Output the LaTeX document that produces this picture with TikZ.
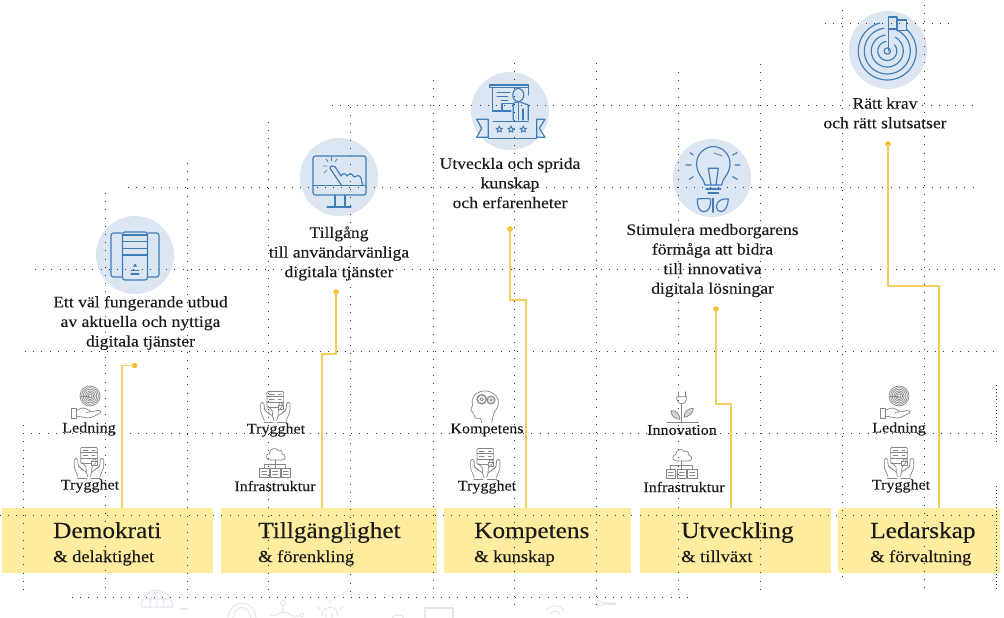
\documentclass[tikz,border=0pt]{standalone}
\usepackage{fontspec}
\setmainfont[FakeStretch=1.1,FakeBold=0.12]{Liberation Serif}
\usetikzlibrary{calc}
\definecolor{boxfill}{HTML}{FEEC9F}
\definecolor{halofill}{HTML}{DCE6F2}
\definecolor{iconblue}{HTML}{3F7DB8}
\definecolor{icongray}{HTML}{858585}
\definecolor{gold}{HTML}{F2CE5C}
\definecolor{golddot}{HTML}{F5BE25}
\definecolor{faint}{HTML}{E6E6F3}
\definecolor{inkc}{HTML}{1A1A1A}
\tikzset{
  dotgrid/.style={draw=black!80,line width=0.8pt,dash pattern=on 0.8pt off 7.4pt},
  colbox/.style={fill=boxfill,inner sep=0pt,anchor=north west},
  halo/.style={circle,fill=halofill,minimum size=78pt,inner sep=0pt},
  bi/.style={draw=iconblue,line width=1.15pt,line cap=round,line join=round},
  bithin/.style={draw=iconblue,line width=0.7pt,line cap=round},
  gi/.style={draw=icongray,line width=0.7pt,line cap=round,line join=round},
  lead/.style={align=center,inner sep=0pt,font=\fontsize{16}{19.6}\selectfont,text=inkc},
  small/.style={inner sep=0pt,font=\fontsize{14.6}{16}\selectfont,text=inkc},
  title/.style={inner sep=0pt,anchor=base west,font=\fontsize{23}{24}\selectfont,text=inkc},
  subtitle/.style={inner sep=0pt,anchor=base west,font=\fontsize{16.8}{18}\selectfont,text=inkc},
  golddotn/.style={circle,fill=golddot,minimum size=5.5pt,inner sep=0pt},
  link/.style={draw=gold,line width=1.05pt},
  fainticon/.style={draw=faint,line width=1.1pt},
  iconserver/.pic={
    \draw[bi,rounded corners=2.5] (-12.5,-23) rectangle (12.5,25);
    \draw[bi] (-12.5,-20)--(12.5,-20) (-12.5,-13.3)--(12.5,-13.3) (-12.5,0)--(12.5,0);
    \draw[bithin] (-12.5,-6.7)--(12.5,-6.7);
    \draw[bi,rounded corners=2.5] (-13.5,-22)--(-24,-22)--(-24,22)--(-13.5,22);
    \draw[bi,rounded corners=2.5] (13.5,-22)--(24,-22)--(24,22)--(13.5,22);
    \fill[iconblue] (0,8.5)--(2,11.5)--(-2,11.5)--cycle;
    \draw[bithin] (-4,15)--(4,15);
    \draw[bi] (-4,19)--(4,19);
  },
  iconscreen/.pic={
    \draw[bi,rounded corners=2.5] (-26,-21) rectangle (27,18);
    \draw[bi] (-26,8.5)--(27,8.5);
    \draw[bi] (-4,18)--(-4,29) (6,18)--(6,29) (-12,30)--(12,30);
    \draw[bi] (2.7,8.5)--(-9,-8.7) .. controls (-9.5,-11) and (-6,-12) .. (-4,-10.3) -- (2,-1) .. controls (3,-4) and (7,-4) .. (8,-1) .. controls (10,-4) and (14,-3.5) .. (15,0) .. controls (17,-2) and (21,-2) .. (22,1) -- (23.7,8.5);
    \draw[bithin] (-11,-15)--(-13,-18) (-7.5,-16)--(-7.5,-20) (-12,-11)--(-16,-11) (-12,-7)--(-15,-4) (-4,-15)--(-2,-18);
  },
  iconteach/.pic={
    \draw[bi] (-20.7,-26) rectangle (18.3,-23.7);
    \draw[bi] (-17.7,-23.7)--(-17.7,0)--(-8,0)--(-8,-7.7)--(3.5,-7.7);
    \draw[bi] (18.3,-23.7)--(18.3,-16);
    \draw[bi] (-8,0)--(1,0);
    \draw[bithin] (-13,-19)--(0,-19) (-13,-15)--(-2,-15) (-9,-11)--(-2,-11);
    \draw[bi] (8.3,-16) ellipse [x radius=5.5,y radius=6.5];
    \draw[bi] (3.3,9)--(3.3,-7.7) (3.3,-7.7)--(7,-9)--(10,-9)--(18.3,-6)--(18.3,9);
    \draw[bi] (8.3,-8)--(8.3,9) (13,-2)--(13,9);
    \draw[bi] (-16.7,10.7)--(18.3,10.7);
    \draw[bi] (-21.7,10.7)--(-21.7,27.3)--(26.7,27.3)--(26.7,10.7);
    \draw[bi] (-21.7,8.3)--(-33.3,8.3)--(-28.3,17.3)--(-33.3,26.3)--(-21.7,26.3)--cycle;
    \draw[bi] (26.7,8.3)--(35,8.3)--(29.3,17.3)--(35,26.3)--(26.7,26.3)--cycle;
    \foreach \sx in {-10.7,1,13.3}{
      \draw[iconblue,line width=0.9pt,line join=round,shift={(\sx,18.3)}]
        (0,-3.4)--(0.9,-1)--(3.3,-1)--(1.4,0.5)--(2.1,2.9)--(0,1.5)--(-2.1,2.9)--(-1.4,0.5)--(-3.3,-1)--(-0.9,-1)--cycle;
    }
  },
  iconbulb/.pic={
    \draw[bi] (-7,7) .. controls (-8,0) and (-15.4,-3) .. (-15.4,-14.7) .. controls (-15.4,-24) and (-7,-31.4) .. (1.3,-31.4) .. controls (10,-31.4) and (18,-24) .. (18,-14.7) .. controls (18,-3) and (10,0) .. (9.6,7) -- cycle;
    \draw[bi] (-6,11)--(8.7,11) (-4,15)--(6.5,15);
    \draw[bi] (-1,7)--(-3.7,-9.7)--(6.3,-9.7)--(4,7);
    \draw[bithin] (2,-25)--(10,-22);
    \draw[bi] (-22,-25.3)--(-18.7,-23) (-26,-13)--(-21,-13) (-22.7,1.3)--(-18.7,-1.3) (20.7,-23)--(25,-25.3) (23,-13)--(28,-13) (20.7,-1.3)--(25.3,1.3);
    \draw[bi] (1,20.3)--(1,34.3);
    \draw[bi] (-14.7,21) .. controls (-5,20) and (-2,21) .. (-1.3,21) .. controls (-1,28) and (-3,33.7) .. (-8,33.7) .. controls (-13,33.7) and (-15,28) .. (-14.7,21) -- cycle;
    \draw[bi] (16.3,21) .. controls (10,20) and (5,23) .. (4.5,28) .. controls (4.5,32) and (7,34) .. (9,33.7) .. controls (14,33) and (16,27) .. (16.3,21) -- cycle;
  },
  icontarget/.pic={
    \draw[bi] plot[domain=-48:255,samples=50] ({-0.7+29*cos(\x)},{1+29*sin(\x)});
    \draw[bi] plot[domain=-65:262,samples=50] ({-0.7+23*cos(\x)},{1+23*sin(\x)});
    \draw[bi] plot[domain=-60:262,samples=40] ({-0.7+16*cos(\x)},{1+16*sin(\x)});
    \draw[bi] plot[domain=-40:262,samples=30] ({-0.7+9.5*cos(\x)},{1+9.5*sin(\x)});
    \draw[bi] (-0.7,1) circle [radius=3.2];
    \draw[bi] (0.3,1)--(0.3,-33)--(9,-33)--(9,-21)--(0.3,-21);
    \draw[bi] (9,-30)--(18.7,-30)--(18.7,-19.3)--(9,-19.3)--(9,-21);
  },
  graytarget/.pic={
    \foreach \r in {10,8.4,6.8,5.2,3.6,2}{\draw[gi] (0,0) circle [radius=\r];}
    \draw[gi] (-9,0)--(0,0);
    \draw[gi] (-18.3,12.3) rectangle (-14,22.3);
    \draw[gi,rounded corners=2] (-14,14.7)--(-6.7,11.3)--(1.7,15.7)--(-4,16.5);
    \draw[gi,rounded corners=2] (1.7,15.7)--(10,14)--(11.7,16.3)--(0,22.3)--(-14,20);
  },
  graysecure/.pic={
    \draw[gi,rounded corners=1] (-8.3,-8) rectangle (8.3,8);
    \draw[gi] (-8.3,-2.7)--(8.3,-2.7) (-8.3,2.7)--(8.3,2.7);
    \draw[gi] (-6,-5.3)--(-1,-5.3) (3,-5.3)--(6,-5.3) (-6,0)--(-1,0) (3,0)--(6,0);
    \draw[gi,fill=white] (2.8,5.5) rectangle (8.2,10);
    \draw[gi] (3.8,5.5) .. controls (3.8,2.5) and (7.2,2.5) .. (7.2,5.5);
    \foreach \s in {1,-1}{
      \begin{scope}[xscale=\s]
        \draw[gi,rounded corners=1.2] (-11,21)--(-14.7,12)--(-14.7,3)--(-11.4,3)--(-10.7,10.5)--(-5,15)--(-2.7,16.2)--(-1.4,21);
        \draw[gi] (-10.7,10.5)--(-6,14.5) (-7,7)--(-3,11.5)--(-2.7,16.2);
        \draw[gi] (-11.5,23)--(-2,23);
      \end{scope}
    }
  },
  graycloud/.pic={
    \draw[gi] (-5,6) .. controls (-10,6) and (-10,0) .. (-6,-0.5) .. controls (-6,-5) and (0,-7.5) .. (3,-3.5) .. controls (6,-5) and (8,-2) .. (7,0) .. controls (11,0.5) and (11,6) .. (6.5,6) -- cycle;
    \draw[gi] (0,6)--(0,14) (-11,14)--(-11,10)--(10.5,10)--(10.5,14);
    \foreach \c in {-11,0,10.5}{
      \draw[gi] (\c-4.8,14.3) rectangle (\c+4.8,23.7);
      \draw[gi] (\c-2.5,17.5)--(\c+2.5,17.5) (\c-2.5,20.5)--(\c+2.5,20.5);
    }
  },
  grayhead/.pic={
    \draw[gi] (-3.3,16) .. controls (-3.5,14) and (-4,12) .. (-5,11.6) -- (-9,11.6) .. controls (-11,11) and (-10,8) .. (-11.7,6.6) -- (-14.3,3.3) -- (-12.3,-1.7) .. controls (-15,-10) and (-8,-15.7) .. (0,-15.7) .. controls (9,-15.7) and (15,-8) .. (13.3,-2) .. controls (12,3) and (8,6) .. (8,10) -- (6.7,16);
    \draw[gi,line width=1.5pt,dash pattern=on 1pt off 1pt] (-3.3,-7.4) circle [radius=4.6];
    \draw[gi] (-3.3,-7.4) circle [radius=1.8];
    \draw[gi,line width=1.5pt,dash pattern=on 1pt off 1pt] (6,-6.7) circle [radius=3.8];
    \draw[gi] (6,-6.7) circle [radius=1.4];
  },
  grayplug/.pic={
    \draw[gi] (-3.4,-0.3)--(-3.4,4.7) (3.3,-0.3)--(3.3,4.7);
    \draw[gi] (-5,4.7)--(5,4.7)--(5,7) .. controls (5,10) and (2,12) .. (0,12) .. controls (-2,12) and (-5,10) .. (-5,7) -- cycle;
    \draw[gi,line width=1.4pt] (0,12)--(0,30.7);
    \draw[gi,fill=icongray!35] (-10.7,18.7) .. controls (-5,17.5) and (-2,23) .. (-1.7,27.3) .. controls (-6,27.5) and (-11,24) .. (-10.7,18.7) -- cycle;
    \draw[gi,fill=icongray!35] (11.7,16.3) .. controls (11.5,21) and (7,25) .. (2.3,25.3) .. controls (2.5,20) and (6,16) .. (11.7,16.3) -- cycle;
    \draw[gi] (-15,30.7)--(16.7,30.7);
  },
}
\begin{document}
\begin{tikzpicture}[x=1pt,y=-1pt]
\useasboundingbox (0,0) rectangle (1004,618);
% faint bottom icons
\draw[fainticon] (141,607) .. controls (143,585) and (171,585) .. (173,607) (141,607)--(173,607) (145,599)--(169,599) (150,607) .. controls (150,598) and (153,593) .. (157,592) .. controls (161,593) and (164,598) .. (164,607) (157,592)--(157,607);
\draw[fainticon] (180,609)--(188,609);
\draw[fainticon] (228,618) .. controls (230,598) and (254,598) .. (256,618) (233,618) .. controls (235,604) and (249,604) .. (251,618);
\draw[fainticon] (270,615) .. controls (275,618) and (278,612) .. (283,612) -- (283,606) (283,612) .. controls (288,612) and (292,618) .. (298,616)--(300,616);
\draw[fainticon] (283,603) circle [radius=2.5] (302,615) circle [radius=2];
\draw[fainticon] (322,617) .. controls (322,604) and (338,604) .. (338,617) (326,618)--(326,613) (332,618)--(332,613);
\draw[fainticon] (317,607)--(320,609) (343,607)--(340,609) (330,600)--(330,603);
\draw[fainticon] (392,618) .. controls (394,614) and (402,614) .. (404,618);
\draw[fainticon] (425,618)--(425,608)--(453,608)--(453,618);
\draw[fainticon] (546,611) .. controls (550,604) and (560,604) .. (564,611) (550,614) .. controls (553,610) and (557,610) .. (560,614);
\draw[fainticon] (616,603)--(604,603)--(598,601)--(598,606)--(604,604.5)--(616,604.5);
% boxes
\node[colbox,minimum width=211pt,minimum height=65pt] (b1) at (2,508) {};
\node[colbox,minimum width=216pt,minimum height=65pt] (b2) at (221,508) {};
\node[colbox,minimum width=187pt,minimum height=65pt] (b3) at (444,508) {};
\node[colbox,minimum width=191pt,minimum height=65pt] (b4) at (640,508) {};
\node[colbox,minimum width=162pt,minimum height=65pt,rounded corners=3pt] (b5) at (838,508) {};
% halos
\node[halo] (c1) at (135,255) {};
\node[halo] (c2) at (339,177) {};
\node[halo] (c3) at (510,111) {};
\node[halo] (c4) at (712,178) {};
\node[halo] (c5) at (888,50) {};
% dotted grid
\draw[dotgrid] (825,23)--(950,23);
\draw[dotgrid] (332,105)--(978,105);
\draw[dotgrid] (128,187)--(978,187);
\draw[dotgrid] (35,269)--(1000,269);
\draw[dotgrid] (25,351)--(1000,351);
\draw[dotgrid] (23,433)--(992,433);
\draw[dotgrid] (0,515)--(997,515);
\draw[dotgrid] (72,597)--(688,597);
\draw[dotgrid] (23,425)--(23,592);
\draw[dotgrid] (105.5,193)--(105.5,592);
\draw[dotgrid] (187,163)--(187,592);
\draw[dotgrid] (268.5,122)--(268.5,592);
\draw[dotgrid] (350,107)--(350,592);
\draw[dotgrid] (433,80)--(433,592);
\draw[dotgrid] (514,63)--(514,606);
\draw[dotgrid] (596.5,63)--(596.5,606);
\draw[dotgrid] (678,72)--(678,592);
\draw[dotgrid] (760,64)--(760,592);
\draw[dotgrid] (842,10)--(842,582);
\draw[dotgrid] (924,5)--(924,592);
\draw[dotgrid,dash pattern=on 0.9pt off 2.6pt] (996,385)--(996,443);
\draw[dotgrid,dash pattern=on 0.9pt off 2.6pt] (996,486)--(996,588);
% blue icons
\pic at (c1) {iconserver};
\pic at (c2) {iconscreen};
\pic at (c3) {iconteach};
\pic at (c4) {iconbulb};
\pic at (c5) {icontarget};
% gray icons
\pic at (90,396) {graytarget};
\pic at (89,455.5) {graysecure};
\pic at (275.3,399.5) {graysecure};
\pic at (275.3,454) {graycloud};
\pic at (485,406.7) {grayhead};
\pic at (485.3,456.5) {graysecure};
\pic at (681.7,392) {grayplug};
\pic at (681.7,455) {graycloud};
\pic at (899,396) {graytarget};
\pic at (899,455.5) {graysecure};
% connectors
\node[golddotn] (d1) at (134.5,365.5) {};
\node[golddotn] (d2) at (336,292) {};
\node[golddotn] (d3) at (510,229) {};
\node[golddotn] (d4) at (716,309) {};
\node[golddotn] (d5) at (888,144) {};
\coordinate (e1) at (122,508);
\coordinate (e2) at (322,508);
\coordinate (e3) at (526,508);
\coordinate (e4) at (731,508);
\coordinate (e5) at (939,508);
\coordinate (m2) at (322,354);
\coordinate (m3) at (526,300);
\coordinate (m4) at (731,404);
\coordinate (m5) at (939,286);
\draw[link] (d1.center) -| (e1);
\draw[link] (d2.center) |- (m2) -- (e2);
\draw[link] (d3.center) |- (m3) -- (e3);
\draw[link] (d4.center) |- (m4) -- (e4);
\draw[link] (d5.center) |- (m5) -- (e5);
% lead texts
\node[lead] (t1) at (140.5,323) {Ett väl fungerande utbud\\av aktuella och nyttiga\\digitala tjänster};
\node[lead] (t2) at (339,253.5) {Tillgång\\till användarvänliga\\digitala tjänster};
\node[lead] (t3) at (510,183) {Utveckla och sprida\\kunskap\\och erfarenheter};
\node[lead] (t4) at (712.5,260.5) {Stimulera medborgarens\\förmåga att bidra\\till innovativa\\digitala lösningar};
\node[lead] (t5) at (885,113) {Rätt krav\\och rätt slutsatser};
% small labels
\node[small] (s1) at (89,429) {Ledning};
\node[small] (s2) at (90,486) {Trygghet};
\node[small] (s3) at (276,430) {Trygghet};
\node[small] (s4) at (275,486) {Infrastruktur};
\node[small] (s5) at (487,430) {Kompetens};
\node[small] (s6) at (487,487) {Trygghet};
\node[small] (s7) at (682,430) {Innovation};
\node[small] (s8) at (684,487) {Infrastruktur};
\node[small] (s9) at (899,429) {Ledning};
\node[small] (s10) at (901,486) {Trygghet};
% box titles
\node[title] (h1) at (53,538) {Demokrati};
\node[subtitle] (u1) at (53,562) {\& delaktighet};
\node[title] (h2) at (258,538) {Tillgänglighet};
\node[subtitle] (u2) at (258,562) {\& förenkling};
\node[title] (h3) at (474,538) {Kompetens};
\node[subtitle] (u3) at (474,562) {\& kunskap};
\node[title] (h4) at (681,538) {Utveckling};
\node[subtitle] (u4) at (681,562) {\& tillväxt};
\node[title] (h5) at (870,538) {Ledarskap};
\node[subtitle] (u5) at (870,562) {\& förvaltning};
\end{tikzpicture}
\end{document}
